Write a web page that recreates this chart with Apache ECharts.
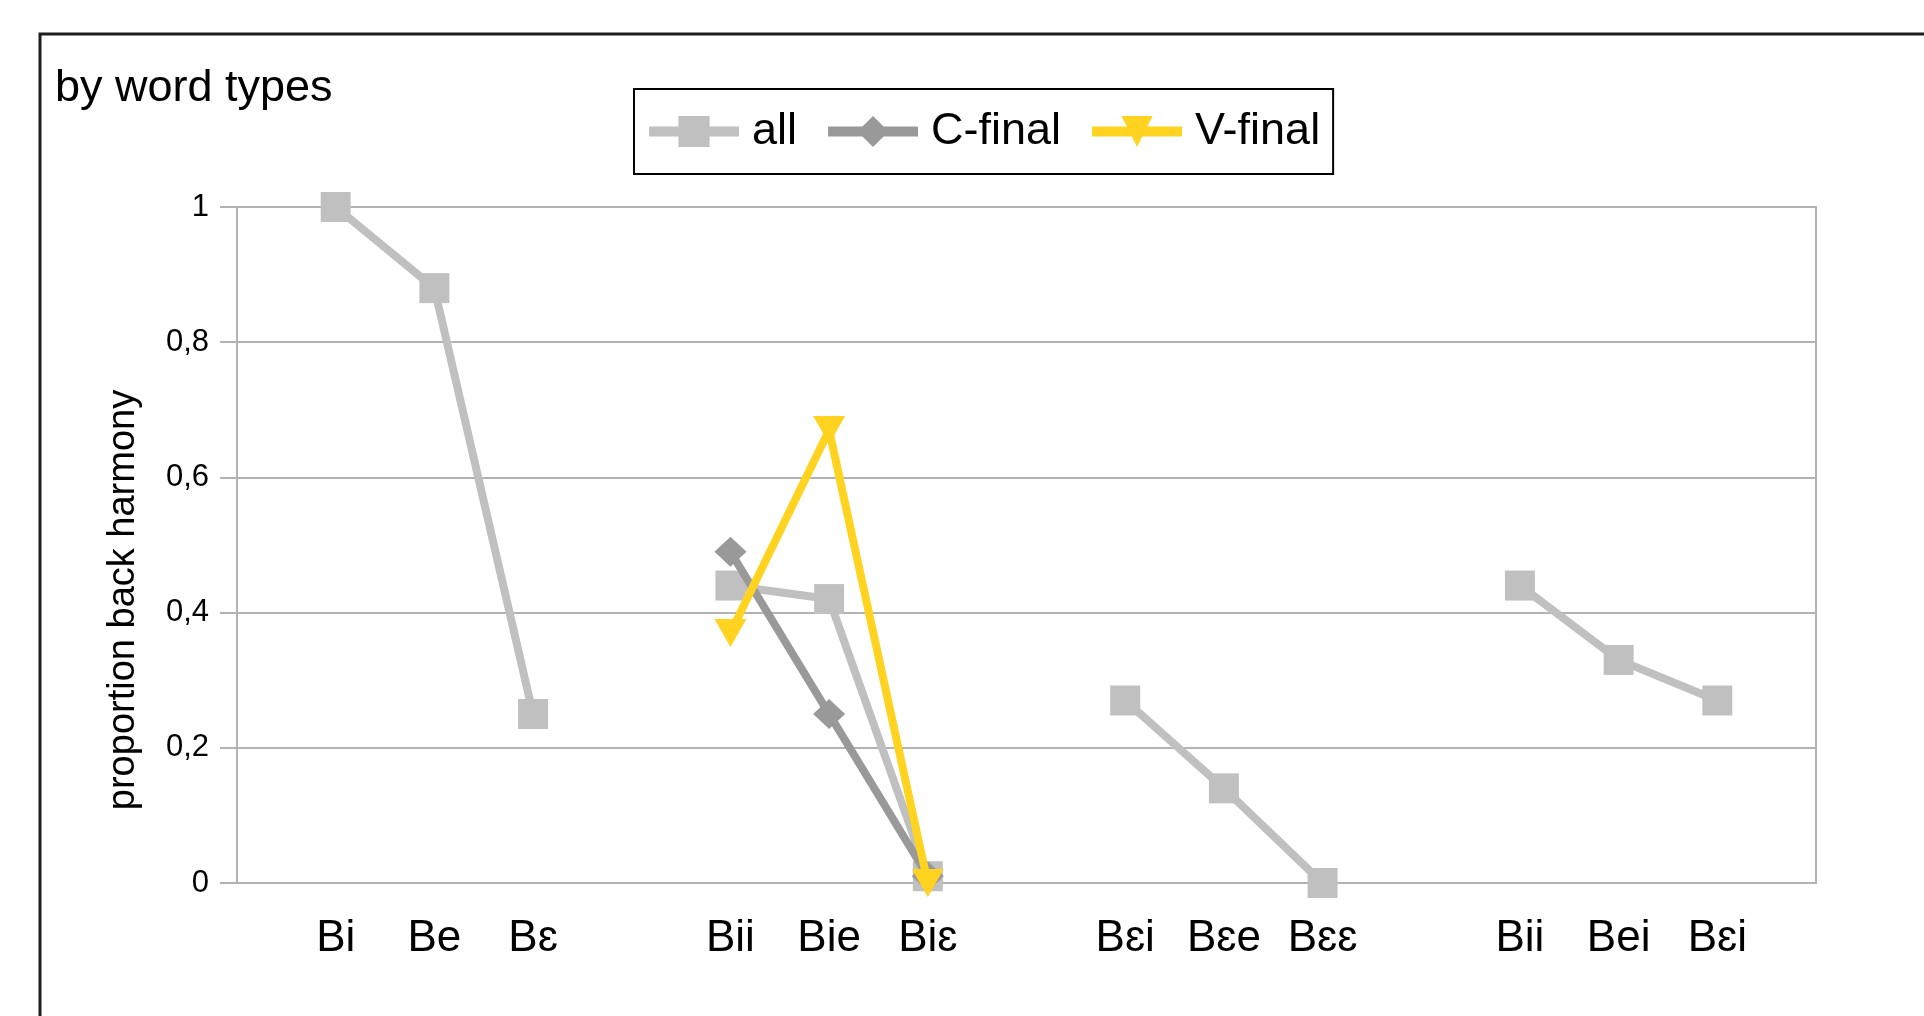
<!DOCTYPE html>
<html>
<head>
<meta charset="utf-8">
<title>by word types</title>
<script src="https://cdn.jsdelivr.net/npm/echarts@6/dist/echarts.min.js"></script>
<style>
	html, body { margin: 0; padding: 0; background: #fff; }
	#chartmain { width: 1924px; height: 1016px; }
</style>
</head>
<body>
<div id="chartmain"></div>
<script>
// categories, empty slots keep the gaps between the four groups
var categories = [ '', 'Bi', 'Be', 'Bɛ', '', 'Bii', 'Bie', 'Biɛ', '', 'Bɛi', 'Bɛe', 'Bɛɛ', '', 'Bii', 'Bei', 'Bɛi', '' ];
var allData = [ null, 1.0, 0.88, 0.25, null, 0.44, 0.42, 0.01, null, 0.27, 0.14, 0.0, null, 0.44, 0.33, 0.27, null ];
var cFinalData = [ null, null, null, null, null, 0.49, 0.25, 0.01, null, null, null, null, null, null, null, null, null ];
var vFinalData = [ null, null, null, null, null, 0.37, 0.67, 0.0, null, null, null, null, null, null, null, null, null ];

var fontName = 'Liberation Sans, Arial, DejaVu Sans, sans-serif';
var gridColor = '#b3b3b3';

var option = {
	animation : false,
	backgroundColor : '#fff',
	title : {
		text : 'by word types',
		left : 55,
		top : 66,
		padding : 0,
		textStyle : {
			fontFamily : fontName,
			fontSize : 45,
			fontWeight : 'normal',
			color : '#000'
		}
	},
	graphic : [ {
		type : 'rect',
		z : -1,
		shape : { x : 40, y : 34, width : 2000, height : 2000 },
		style : { fill : 'none', stroke : '#1e1e1e', lineWidth : 3 }
	} ],
	legend : {
		left : 634,
		top : 89,
		padding : [ 20, 13, 20, 10 ],
		borderColor : '#000',
		borderWidth : 2,
		itemWidth : 90,
		itemHeight : 39,
		itemGap : 26,
		lineStyle : { width : 10 },
		textStyle : {
			fontFamily : fontName,
			fontSize : 45,
			color : '#000',
			padding : [ 0, 0, 0, 8 ]
		},
		data : [ 'all', 'C-final', 'V-final' ]
	},
	grid : {
		left : 237,
		right : 108,
		top : 207,
		bottom : 133,
		show : true,
		borderColor : gridColor,
		borderWidth : 2
	},
	xAxis : {
		type : 'category',
		data : categories,
		boundaryGap : false,
		axisLine : { lineStyle : { color : gridColor, width : 2 } },
		axisTick : { show : false },
		splitLine : { show : false },
		axisLabel : {
			interval : 0,
			margin : 34,
			fontFamily : fontName,
			fontSize : 44,
			color : '#000'
		}
	},
	yAxis : {
		type : 'value',
		min : 0,
		max : 1,
		interval : 0.2,
		name : 'proportion back harmony',
		nameLocation : 'middle',
		nameGap : 94,
		nameTextStyle : {
			fontFamily : fontName,
			fontSize : 38,
			color : '#000',
			padding : [ 0, 110, 0, 0 ]
		},
		axisLine : { show : true, lineStyle : { color : gridColor, width : 2 } },
		axisTick : { show : true, length : 17, lineStyle : { color : gridColor, width : 2 } },
		splitLine : { lineStyle : { color : gridColor, width : 2 } },
		axisLabel : {
			margin : 28,
			fontFamily : fontName,
			fontSize : 31,
			color : '#000',
			formatter : function(v) {
				// comma as decimal sign
				return String(Math.round(v * 10) / 10).replace('.', ',');
			}
		}
	},
	series : [ {
		name : 'all',
		type : 'line',
		data : allData,
		symbol : 'rect',
		symbolSize : 30,
		showAllSymbol : true,
		lineStyle : { color : '#c0c0c0', width : 8 },
		itemStyle : { color : '#c0c0c0' },
		z : 2
	}, {
		name : 'C-final',
		type : 'line',
		data : cFinalData,
		symbol : 'diamond',
		symbolSize : [ 32, 30 ],
		lineStyle : { color : '#999999', width : 8 },
		itemStyle : { color : '#999999' },
		z : 3
	}, {
		name : 'V-final',
		type : 'line',
		data : vFinalData,
		symbol : 'triangle',
		symbolSize : [ 32, 28 ],
		symbolRotate : 180,
		lineStyle : { color : '#ffd320', width : 8 },
		itemStyle : { color : '#ffd320' },
		z : 4
	} ]
};

var myChart = echarts.init(document.getElementById('chartmain'));
myChart.setOption(option);
</script>
</body>
</html>
